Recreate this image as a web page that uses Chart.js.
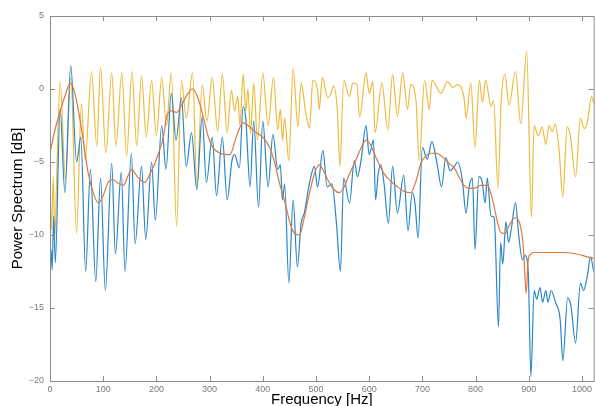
<!DOCTYPE html>
<html>
<head>
<meta charset="utf-8">
<script src="https://cdn.jsdelivr.net/npm/chart.js@4.4.1/dist/chart.umd.min.js"></script>
<style>
  html, body { margin: 0; padding: 0; background: #fff; }
</style>
</head>
<body>
<canvas id="chart" width="595" height="406"></canvas>
<script>
// values (peaks and dips), frequency in Hz, level in dB
var xTicks = [0, 100, 200, 300, 400, 500, 600, 700, 800, 900, 1000];
var yTicks = [5, 0, -5, -10, -15, -20];

var blueFreq = [0, 2, 4, 7, 10, 19, 28, 39, 50, 58, 67, 76, 86, 95, 104, 116, 123, 134, 141, 153, 160, 172, 180, 191, 198,
  210, 218, 228, 237, 247, 256, 266, 276, 286, 294, 305, 313, 324, 333, 342, 347, 356, 363, 368, 376, 383, 392, 400,
  410, 419, 428, 433, 437, 441, 449, 457, 465, 472, 478, 488, 497, 503, 513, 521, 530, 538, 546, 552, 563, 572, 578,
  585, 594, 600, 608, 612, 617, 622, 628, 636, 644, 653, 665, 673, 681, 686, 692, 700, 709, 718, 727, 736, 744, 752,
  760, 766, 775, 782, 788, 794, 799, 806, 812, 818, 822, 829, 835, 843, 847, 851, 857, 862, 867, 875, 881, 888, 893,
  899, 904, 910, 915, 921, 926, 932, 936, 942, 950, 959, 964, 973, 979, 988, 997, 1003, 1010, 1016, 1022];
var blueDb = [-12.3, -11.0, -12.4, -8.7, -11.9, -1.4, -7.1, 1.6, -5.0, -3.3, -12.5, -5.5, -13.2, -6.1, -13.8, -5.1, -11.3, -5.7, -12.5, -4.4, -10.6, -5.3, -10.3, -5.0, -9.0,
  -2.5, -5.5, -0.3, -3.5, -0.6, -5.3, -3.0, -6.9, -1.9, -6.4, -3.3, -7.3, -3.3, -7.6, -4.9, -4.5, -5.4, -1.2, -2.0, -6.7, -2.2, -8.1, -2.2,
  -6.7, -3.1, -5.5, -5.2, -7.6, -6.5, -13.3, -7.6, -12.2, -9.2, -8.5, -6.4, -5.3, -6.7, -4.2, -6.7, -6.5, -9.0, -12.5, -6.1, -7.8, -4.9, -6.0,
  -4.8, -2.5, -4.5, -3.5, -7.6, -5.8, -5.2, -6.5, -9.2, -5.3, -8.5, -5.9, -9.7, -7.1, -7.8, -10.2, -4.0, -4.8, -3.6, -5.0, -6.7, -4.7, -5.6,
  -5.3, -5.0, -6.2, -8.5, -6.7, -6.1, -11.0, -6.0, -6.3, -7.8, -6.1, -8.7, -8.8, -16.3, -10.5, -12.0, -9.1, -10.5, -9.6, -7.8, -10.0, -11.7, -11.4,
  -12.6, -19.7, -13.8, -14.4, -13.6, -14.6, -13.8, -14.6, -13.8, -14.6, -15.8, -18.6, -14.3, -14.8, -17.4, -13.3, -13.8, -12.8, -11.5, -12.5];

var redFreq = [0, 8, 16, 28, 38, 46, 53, 62, 72, 82, 91, 100, 109, 118, 126, 138, 146, 153, 164, 178, 188, 197, 205, 213,
  220, 228, 238, 246, 256, 268, 278, 288, 297, 306, 320, 338, 350, 363, 372, 388, 400, 413, 422, 431, 444, 452, 460,
  469, 478, 488, 497, 506, 514, 522, 534, 544, 553, 562, 578, 588, 594, 602, 614, 628, 640, 653, 665, 678, 688, 697,
  706, 716, 726, 736, 745, 753, 760, 770, 778, 788, 797, 810, 822, 830, 838, 847, 855, 865, 875, 883, 888, 891, 895,
  899, 904, 910, 930, 960, 990, 1010, 1022];
var redDb = [-4.4, -3.0, -1.9, -0.5, 0.4, -0.2, -1.4, -3.4, -5.8, -7.2, -7.8, -7.3, -6.4, -6.2, -6.4, -6.6, -6.0, -5.5, -6.0, -6.4, -5.8, -5.1, -4.3, -3.3,
  -1.8, -1.5, -1.6, -1.2, -0.5, 0.0, -0.6, -1.9, -3.2, -4.0, -4.4, -4.5, -3.3, -2.3, -2.5, -3.0, -3.3, -4.0, -5.0, -6.4, -8.1, -9.3, -9.9,
  -10.0, -8.8, -7.1, -5.8, -5.2, -5.6, -6.2, -6.9, -7.1, -6.7, -5.9, -4.6, -3.8, -3.5, -3.8, -4.8, -5.8, -6.3, -6.7, -7.0, -7.1, -6.3, -5.1,
  -4.6, -4.4, -4.4, -4.6, -4.9, -5.2, -5.4, -6.1, -6.6, -6.8, -6.8, -6.6, -6.6, -7.3, -8.6, -9.8, -9.9, -9.2, -8.8, -9.2, -10.2, -11.5, -14.0,
  -11.7, -11.3, -11.2, -11.2, -11.2, -11.3, -11.5, -11.6];

var yellowFreq = [0, 3, 6, 9, 13, 19, 29, 39, 50, 59, 66, 78, 88, 95, 105, 116, 124, 135, 144, 154, 163, 172, 181, 191, 200,
  210, 219, 228, 238, 247, 256, 268, 276, 286, 295, 305, 315, 324, 333, 341, 347, 353, 357, 363, 368, 372, 377, 383,
  390, 400, 410, 420, 428, 433, 437, 441, 449, 457, 466, 472, 481, 488, 494, 503, 506, 512, 522, 527, 533, 540, 545,
  552, 563, 569, 577, 582, 594, 600, 607, 611, 624, 635, 644, 653, 663, 672, 678, 688, 694, 704, 713, 718, 735, 747,
  757, 766, 779, 782, 791, 799, 807, 813, 819, 829, 834, 842, 848, 855, 863, 875, 885, 896, 905, 910, 918, 925, 932,
  938, 944, 950, 957, 964, 972, 978, 988, 997, 1004, 1010, 1018, 1022];
var yellowDb = [-7.0, -9.6, -6.0, -10.2, -5.5, 0.5, -6.2, 0.8, -9.9, -1.0, -4.9, 1.2, -3.9, 1.5, -4.4, 1.1, -3.9, 1.1, -4.6, 1.2, -3.9, 0.9, -3.3, 0.6, -3.2,
  0.8, -2.5, 1.1, -9.4, 0.6, -2.0, 1.1, -6.7, 0.3, -2.2, 0.8, -2.9, 1.0, -3.0, -0.1, -1.5, -0.5, -2.5, 1.0, -1.5, 0.0, -3.0, 0.4,
  -3.5, 1.1, -2.5, 0.8, -2.8, -1.4, -3.5, -2.0, -4.9, 1.4, -2.6, 0.4, -1.7, -2.7, 0.6, -0.1, -1.4, 0.8, -0.6, -0.4, 0.2, -1.4, -5.3,
  0.6, -0.5, 0.4, 0.3, -1.9, 1.1, -0.3, 0.5, -3.0, 0.4, -2.8, 1.0, -1.9, 1.1, -1.4, 0.3, -0.8, -4.9, 0.6, -1.4, 0.6, -0.3, 0.5,
  0.1, 0.3, -0.8, -2.0, 0.4, -4.0, 0.6, -0.9, 0.6, -1.2, -0.8, -6.8, -0.9, 1.0, -1.1, 1.2, -2.4, 2.6, -8.8, -2.5, -3.2, -2.6, -3.8,
  -2.5, -2.9, -2.4, -4.2, -7.4, -2.6, -3.2, -6.0, -2.0, -2.7, -2.3, -0.5, -1.0];

function pairs(xs, ys) {
  return xs.map(function (v, i) { return { x: v, y: ys[i] }; });
}

var tickFont = { family: 'Liberation Sans', size: 9 };

// box round the plot with MATLAB style inward tick marks
var frame = {
  id: 'frame',
  afterDatasetsDraw: function (chart) {
    var ctx = chart.ctx, a = chart.chartArea, x = chart.scales.x, y = chart.scales.y;
    ctx.save();
    ctx.strokeStyle = '#8c8c8c';
    ctx.lineWidth = 1;
    ctx.strokeRect(a.left + 0.5, a.top + 0.5, a.right - a.left, a.bottom - a.top);
    ctx.beginPath();
    x.ticks.forEach(function (t) {
      var px = Math.round(x.getPixelForValue(t.value)) + 0.5;
      ctx.moveTo(px, a.bottom); ctx.lineTo(px, a.bottom - 5);
      ctx.moveTo(px, a.top); ctx.lineTo(px, a.top + 5);
    });
    y.ticks.forEach(function (t) {
      var py = Math.round(y.getPixelForValue(t.value)) + 0.5;
      ctx.moveTo(a.left, py); ctx.lineTo(a.left + 5, py);
      ctx.moveTo(a.right, py); ctx.lineTo(a.right - 5, py);
    });
    ctx.stroke();
    ctx.restore();
  }
};

var ctx = document.getElementById('chart');
var myChart = new Chart(ctx, {
  type: 'line',
  data: {
    datasets: [{
      label: 'smoothed',
      data: pairs(redFreq, redDb),
      borderColor: '#e0763f',
      borderWidth: 1.2,
      order: 0
    }, {
      label: 'signal',
      data: pairs(blueFreq, blueDb),
      borderColor: '#2a86c8',
      borderWidth: 1.2,
      order: 1
    }, {
      label: 'reference',
      data: pairs(yellowFreq, yellowDb),
      borderColor: '#eebb3c',
      borderWidth: 1.2,
      order: 2
    }]
  },
  options: {
    responsive: false,
    animation: false,
    devicePixelRatio: 1,
    layout: { padding: { top: 16, right: 0, bottom: 0, left: 0 } },
    elements: {
      point: { radius: 0 },
      line: { cubicInterpolationMode: 'monotone', fill: false }
    },
    scales: {
      x: {
        type: 'linear',
        min: 0,
        max: 1022,
        afterBuildTicks: function (scale) {
          scale.ticks = xTicks.map(function (v) { return { value: v }; });
        },
        afterFit: function (scale) { scale.height = 25; },
        grid: { display: false, drawTicks: false },
        border: { display: false },
        ticks: {
          font: tickFont,
          color: '#7a7a7a',
          padding: 3,
          maxRotation: 0,
          callback: function (v) { return String(v); }
        },
        title: {
          display: true,
          text: 'Frequency [Hz]',
          color: '#000',
          font: { family: 'Liberation Sans', size: 15 },
          padding: { top: 0, bottom: -3 }
        }
      },
      y: {
        min: -20,
        max: 5,
        afterBuildTicks: function (scale) {
          scale.ticks = yTicks.map(function (v) { return { value: v }; });
        },
        afterFit: function (scale) { scale.width = 50; },
        grid: { display: false, drawTicks: false },
        border: { display: false },
        ticks: {
          font: tickFont,
          color: '#7a7a7a',
          padding: 6,
          callback: function (v) { return v < 0 ? '\u2212' + Math.abs(v) : String(v); }
        },
        title: {
          display: true,
          text: 'Power Spectrum [dB]',
          color: '#000',
          font: { family: 'Liberation Sans', size: 15 },
          padding: { top: 9, bottom: 0 }
        }
      }
    },
    plugins: {
      legend: { display: false },
      tooltip: { enabled: false }
    }
  },
  plugins: [frame]
});
</script>
</body>
</html>
